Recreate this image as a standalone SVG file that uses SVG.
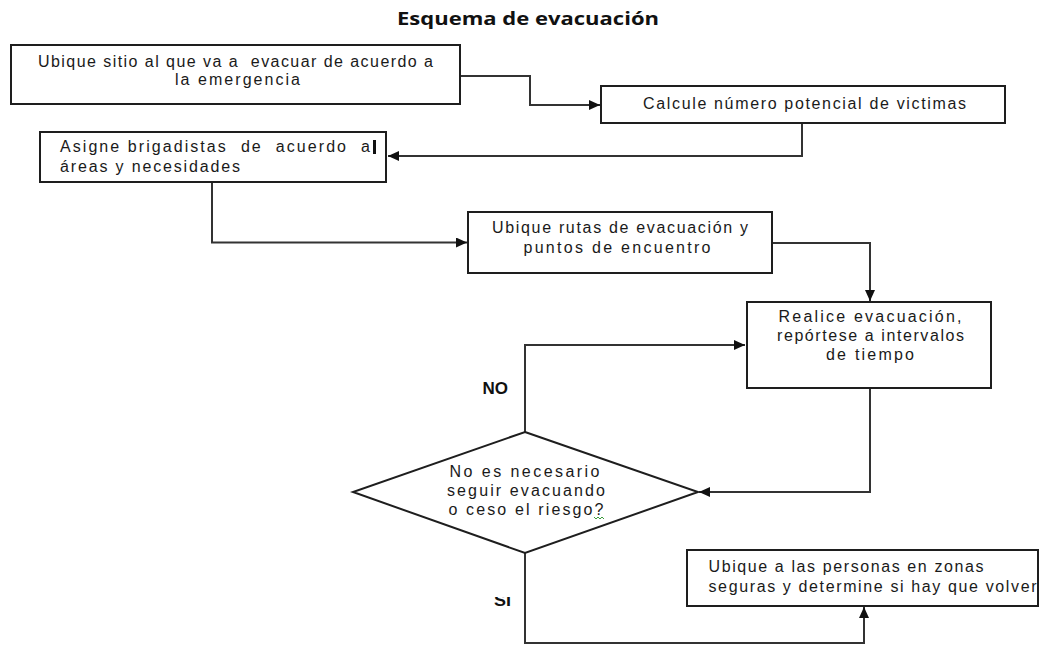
<svg xmlns="http://www.w3.org/2000/svg" width="1042" height="645" viewBox="0 0 1042 645">
  <defs>
    <style>
      .box { fill: #ffffff; stroke: #1e1e1e; stroke-width: 2; }
      .t { font-family: "Liberation Sans", Arial, sans-serif; font-size: 16px; fill: #1a1a1a; white-space: pre; }
      .lbl { font-family: "Liberation Sans", Arial, sans-serif; font-size: 17px; font-weight: bold; fill: #111; }
      .title { font-family: "Open Sans", "Liberation Sans", sans-serif; font-size: 18px; font-weight: bold; fill: #111; }
      .conn { fill: none; stroke: #333333; stroke-width: 2; }
    </style>
    <marker id="arr" markerUnits="userSpaceOnUse" markerWidth="12" markerHeight="10" refX="11" refY="5" orient="auto">
      <path d="M0,0 L11,5 L0,10 z" fill="#111"/>
    </marker>
    <clipPath id="siclip">
      <rect x="480" y="597" width="50" height="20"/>
    </clipPath>
  </defs>
  <rect width="1042" height="645" fill="#ffffff"/>

  <text class="title" x="397" y="25" textLength="262" lengthAdjust="spacingAndGlyphs">Esquema de evacuación</text>

  <g id="connectors">
    <path class="conn" d="M460,76 H530 V105 H600" marker-end="url(#arr)"/>
    <path class="conn" d="M802,123 V156 H388" marker-end="url(#arr)"/>
    <path class="conn" d="M212,182 V242.5 H467" marker-end="url(#arr)"/>
    <path class="conn" d="M772,243 H870 V301" marker-end="url(#arr)"/>
    <path class="conn" d="M870,388 V492 H699" marker-end="url(#arr)"/>
    <path class="conn" d="M525,432 V345 H745" marker-end="url(#arr)"/>
    <path class="conn" d="M525,553 V643 H864 V607" marker-end="url(#arr)"/>
  </g>

  <g id="n1">
    <rect class="box" x="11" y="45" width="449" height="59"/>
    <text class="t" x="38" y="67" textLength="395" lengthAdjust="spacing" xml:space="preserve">Ubique sitio al que va a  evacuar de acuerdo a</text>
    <text class="t" x="175" y="84.5" textLength="125" lengthAdjust="spacing">la emergencia</text>
  </g>

  <g id="n2">
    <rect class="box" x="601" y="86" width="404" height="37"/>
    <text class="t" x="643" y="108.5" textLength="323" lengthAdjust="spacing">Calcule número potencial de victimas</text>
  </g>

  <g id="n3">
    <rect class="box" x="40" y="132" width="346" height="50"/>
    <text class="t" x="60" y="151.5" textLength="310" lengthAdjust="spacing" xml:space="preserve">Asigne brigadistas  de  acuerdo  a</text>
    <rect x="373" y="140" width="3" height="14" fill="#111"/>
    <text class="t" x="60" y="171.5" textLength="180" lengthAdjust="spacing">áreas y necesidades</text>
  </g>

  <g id="n4">
    <rect class="box" x="468" y="212" width="304" height="61"/>
    <text class="t" x="492" y="233" textLength="256" lengthAdjust="spacing">Ubique rutas de evacuación y</text>
    <text class="t" x="523.5" y="253" textLength="187" lengthAdjust="spacing">puntos de encuentro</text>
  </g>

  <g id="n5">
    <rect class="box" x="747" y="302" width="244" height="86"/>
    <text class="t" x="778.5" y="321.5" textLength="183" lengthAdjust="spacing">Realice evacuación,</text>
    <text class="t" x="777" y="340.5" textLength="187" lengthAdjust="spacing">repórtese a intervalos</text>
    <text class="t" x="826" y="359.5" textLength="88" lengthAdjust="spacing">de tiempo</text>
  </g>

  <g id="n6">
    <polygon class="box" points="525,432 698,492 525,553 353,492"/>
    <text class="t" x="449.5" y="477" textLength="150" lengthAdjust="spacing">No es necesario</text>
    <text class="t" x="447" y="496" textLength="158" lengthAdjust="spacing">seguir evacuando</text>
    <text class="t" x="448.5" y="514.5" textLength="155" lengthAdjust="spacing">o ceso el riesgo?</text>
    <path d="M594,517 l2,2 l2,-2 l2,2 l2,-2 l2,2" fill="none" stroke="#3a9a3a" stroke-width="1"/>
  </g>

  <g id="n7">
    <rect class="box" x="687" y="550" width="351" height="56"/>
    <text class="t" x="708.5" y="572" textLength="275" lengthAdjust="spacing">Ubique a las personas en zonas</text>
    <text class="t" x="708.5" y="591.5" textLength="328" lengthAdjust="spacing">seguras y determine si hay que volver</text>
  </g>

  <g id="labels">
    <text class="lbl" x="482.5" y="393.5" textLength="25.5" lengthAdjust="spacingAndGlyphs">NO</text>
    <text class="lbl" x="494" y="606" textLength="17" lengthAdjust="spacingAndGlyphs" clip-path="url(#siclip)">SI</text>
  </g>
</svg>
